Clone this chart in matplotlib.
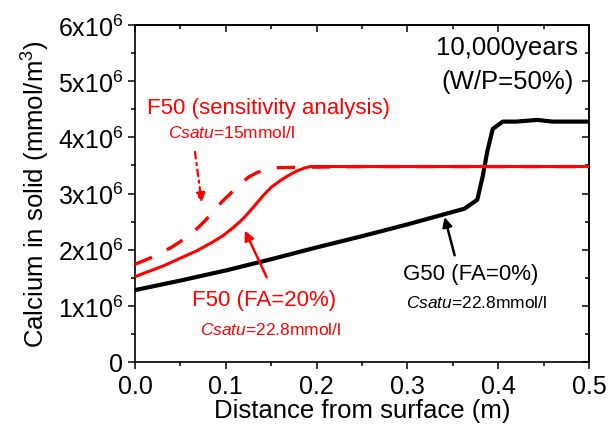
import matplotlib
matplotlib.use("Agg")
import matplotlib.pyplot as plt
from matplotlib.ticker import MultipleLocator, FuncFormatter

plt.rcParams['font.family'] = ['Liberation Sans', 'DejaVu Sans']
plt.rcParams['mathtext.fontset'] = 'custom'
plt.rcParams['mathtext.rm'] = 'Liberation Sans'
plt.rcParams['mathtext.it'] = 'Liberation Sans:italic'

# G50 (FA=0%)
g50_x = [0.0, 0.05, 0.10, 0.15, 0.20, 0.25, 0.30, 0.363, 0.377, 0.383, 0.388, 0.394, 0.405, 0.42, 0.443, 0.46, 0.5]
g50_y = [1.28e6, 1.45e6, 1.63e6, 1.83e6, 2.04e6, 2.24e6, 2.45e6, 2.73e6, 2.89e6, 3.31e6, 3.75e6, 4.15e6, 4.28e6, 4.28e6, 4.31e6, 4.28e6, 4.28e6]

# F50 (FA=20%)
f50_x = [0.0, 0.031, 0.068, 0.085, 0.097, 0.108, 0.119, 0.130, 0.141, 0.150, 0.160, 0.170, 0.178, 0.186, 0.193, 0.25, 0.5]
f50_y = [1.52e6, 1.71e6, 1.98e6, 2.13e6, 2.25e6, 2.39e6, 2.55e6, 2.75e6, 2.96e6, 3.11e6, 3.23e6, 3.33e6, 3.40e6, 3.45e6, 3.48e6, 3.48e6, 3.48e6]

# F50 sensitivity analysis (Csatu=15mmol/l)
f50s_x = [0.0, 0.018, 0.040, 0.059, 0.070, 0.081, 0.095, 0.107, 0.118, 0.126, 0.134, 0.145, 0.156, 0.25, 0.5]
f50s_y = [1.74e6, 1.86e6, 2.04e6, 2.24e6, 2.40e6, 2.58e6, 2.84e6, 3.03e6, 3.20e6, 3.30e6, 3.37e6, 3.43e6, 3.46e6, 3.48e6, 3.48e6]

fig = plt.figure(figsize=(6.08, 4.27), dpi=100)
ax = fig.add_axes([135/608, (427-363)/427, 454/608, 337/427])

ax.plot(g50_x, g50_y, color='black', lw=3.0, zorder=3, solid_joinstyle='round')
ax.plot(f50s_x, f50s_y, color='#ff0000', lw=2.4, dashes=(5.5, 5), zorder=3)
ax.plot(f50_x, f50_y, color='#ff0000', lw=2.2, zorder=4, solid_joinstyle='round')

ax.set_xlim(0, 0.5)
ax.set_ylim(0, 6e6)
ax.xaxis.set_major_locator(MultipleLocator(0.1))
ax.xaxis.set_minor_locator(MultipleLocator(0.05))
ax.yaxis.set_major_locator(MultipleLocator(1e6))
ax.yaxis.set_minor_locator(MultipleLocator(0.5e6))
ax.xaxis.set_major_formatter(FuncFormatter(lambda v, p: f"{v:.1f}"))


def yfmt(v, p):
    n = int(round(v / 1e6))
    return "0" if n == 0 else f"{n}x10$^{{6}}$"


ax.yaxis.set_major_formatter(FuncFormatter(yfmt))

for s in ax.spines.values():
    s.set_linewidth(1.2)
ax.tick_params(axis='both', which='both', labelsize=18, width=1.1)
ax.tick_params(axis='both', which='major', length=5)
ax.tick_params(axis='both', which='minor', length=3)
ax.tick_params(axis='x', which='both', direction='out', top=False)
ax.tick_params(axis='y', which='both', direction='out', right=False)
sec_x = ax.secondary_xaxis('top')
sec_x.xaxis.set_major_locator(MultipleLocator(0.1))
sec_x.xaxis.set_minor_locator(MultipleLocator(0.05))
sec_x.tick_params(which='both', direction='in', labeltop=False, width=1.1)
sec_x.tick_params(which='major', length=5)
sec_x.tick_params(which='minor', length=3)
sec_y = ax.secondary_yaxis('right')
sec_y.yaxis.set_major_locator(MultipleLocator(1e6))
sec_y.yaxis.set_minor_locator(MultipleLocator(0.5e6))
sec_y.tick_params(which='both', direction='in', labelright=False, width=1.1)
sec_y.tick_params(which='major', length=5)
sec_y.tick_params(which='minor', length=3)
for s in (sec_x.spines.values()):
    s.set_linewidth(1.2)
for s in (sec_y.spines.values()):
    s.set_linewidth(1.2)

ax.set_xlabel("Distance from surface (m)", fontsize=18.5, labelpad=0)
ax.set_ylabel("Calcium in solid (mmol/m$^{3}$)", fontsize=18.5, labelpad=4)

red = '#ff0000'
ax.text(0.41, 5.61e6, "10,000years", fontsize=18.5, ha='center', va='center')
ax.text(0.41, 5.0e6, "(W/P=50%)", fontsize=18.5, ha='center', va='center')

ax.text(0.013, 4.54e6, "F50 (sensitivity analysis)", fontsize=16, color=red, ha='left', va='center')
ax.text(0.036, 4.09e6, r"$\mathit{Csatu}$=15mmol/l", fontsize=12.5, color=red, ha='left', va='center')
ax.text(0.063, 1.12e6, "F50 (FA=20%)", fontsize=16, color=red, ha='left', va='center')
ax.text(0.072, 0.59e6, r"$\mathit{Csatu}$=22.8mmol/l", fontsize=12.5, color=red, ha='left', va='center')
ax.text(0.295, 1.58e6, "G50 (FA=0%)", fontsize=16, color='black', ha='left', va='center')
ax.text(0.298, 1.07e6, r"$\mathit{Csatu}$=22.8mmol/l", fontsize=12.5, color='black', ha='left', va='center')

ax.annotate("", xy=(0.0735, 2.84e6), xytext=(0.066, 3.74e6),
            arrowprops=dict(arrowstyle='-|>', color=red, lw=1.6, linestyle=(0, (3, 2, 1, 2)),
                            mutation_scale=14, shrinkA=0, shrinkB=0))
ax.annotate("", xy=(0.121, 2.34e6), xytext=(0.145, 1.51e6),
            arrowprops=dict(arrowstyle='-|>', color=red, lw=1.8,
                            mutation_scale=14, shrinkA=0, shrinkB=0))
ax.annotate("", xy=(0.341, 2.58e6), xytext=(0.352, 1.90e6),
            arrowprops=dict(arrowstyle='-|>', color='black', lw=1.8,
                            mutation_scale=14, shrinkA=0, shrinkB=0))

fig.savefig("out.png", dpi=100)
